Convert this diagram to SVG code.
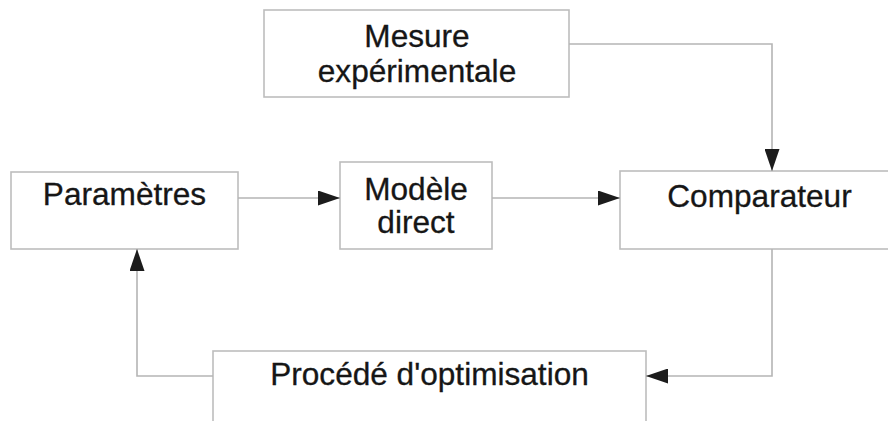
<svg xmlns="http://www.w3.org/2000/svg" width="888" height="421" viewBox="0 0 888 421">
  <style>
    .box { fill: #ffffff; stroke: #bdbdbd; stroke-width: 1.6; }
    .lbl { font-family: "Liberation Sans", Arial, sans-serif; font-size: 31.6px; fill: #161616; text-anchor: middle; stroke: #161616; stroke-width: 0.3; }
    .conn { fill: none; stroke: #b5b5b5; stroke-width: 1.6; marker-end: url(#arrow); }
  </style>
  <defs>
    <marker id="arrow" viewBox="0 0 22 15" refX="22" refY="7.5" markerWidth="22" markerHeight="15" markerUnits="userSpaceOnUse" orient="auto">
      <path d="M0,0 L22,7.5 L0,15 z" fill="#1c1c1c"/>
    </marker>
  </defs>
  <rect width="888" height="421" fill="#ffffff"/>
  <g id="mesure">
    <rect class="box" x="264" y="10" width="305" height="87"/>
    <text class="lbl" x="417" y="47">Mesure</text>
    <text class="lbl" x="417" y="82">expérimentale</text>
  </g>
  <g id="parametres">
    <rect class="box" x="11" y="172" width="227" height="77"/>
    <text class="lbl" x="124.5" y="205">Paramètres</text>
  </g>
  <g id="modele">
    <rect class="box" x="340" y="162" width="152" height="87"/>
    <text class="lbl" x="416" y="200">Modèle</text>
    <text class="lbl" x="416" y="233">direct</text>
  </g>
  <g id="comparateur">
    <rect class="box" x="620" y="171" width="280" height="78"/>
    <text class="lbl" x="759.5" y="207">Comparateur</text>
  </g>
  <g id="optimisation">
    <rect class="box" x="213" y="351" width="433" height="90"/>
    <text class="lbl" x="429.5" y="385">Procédé d'optimisation</text>
  </g>
  <g id="connectors">
    <path class="conn" d="M569,44 H772 V171"/>
    <path class="conn" d="M238,198 H340"/>
    <path class="conn" d="M492,198 H620"/>
    <path class="conn" d="M772,249 V376 H646"/>
    <path class="conn" d="M213,376 H137 V249"/>
  </g>
</svg>
